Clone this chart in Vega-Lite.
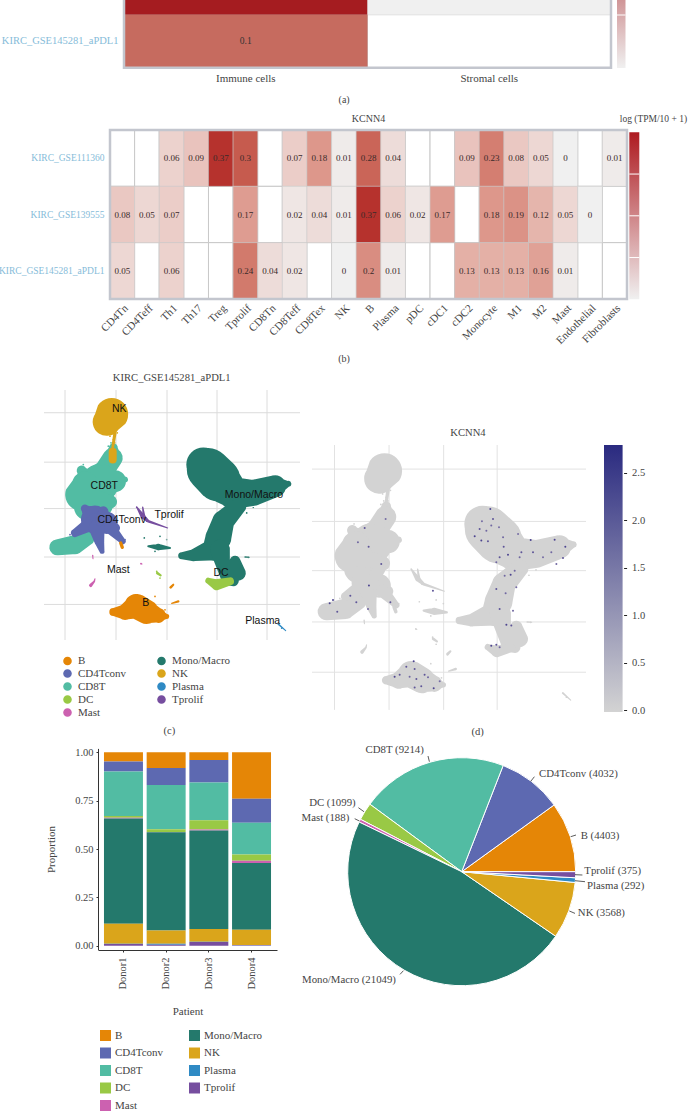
{
  "$schema": "https://vega.github.io/schema/vega-lite/v6.json",
  "width": 688,
  "height": 1111,
  "autosize": {"type": "none"},
  "padding": 0,
  "background": "white",
  "view": {"stroke": null},
  "config": {
    "font": "Liberation Serif",
    "axis": {"labelFont": "Liberation Serif", "titleFont": "Liberation Serif", "titleFontWeight": "normal", "labelColor": "#444444", "titleColor": "#444444"},
    "legend": {"labelFont": "Liberation Serif", "labelColor": "#444444"},
    "text": {"font": "Liberation Serif", "color": "#444444"}
  },
  "datasets": {
    "heatA": [
      {"set": "KIRC_GSE139555", "cell": "Immune cells", "v": 0.15},
      {"set": "KIRC_GSE139555", "cell": "Stromal cells", "v": 0},
      {"set": "KIRC_GSE145281_aPDL1", "cell": "Immune cells", "v": 0.1},
      {"set": "KIRC_GSE145281_aPDL1", "cell": "Stromal cells", "v": null}
    ],
    "heatB": [
      {"set": "KIRC_GSE111360", "cell": "CD4Tn", "v": null},
      {"set": "KIRC_GSE111360", "cell": "CD4Teff", "v": null},
      {"set": "KIRC_GSE111360", "cell": "Th1", "v": 0.06},
      {"set": "KIRC_GSE111360", "cell": "Th17", "v": 0.09},
      {"set": "KIRC_GSE111360", "cell": "Treg", "v": 0.37},
      {"set": "KIRC_GSE111360", "cell": "Tprolif", "v": 0.3},
      {"set": "KIRC_GSE111360", "cell": "CD8Tn", "v": null},
      {"set": "KIRC_GSE111360", "cell": "CD8Teff", "v": 0.07},
      {"set": "KIRC_GSE111360", "cell": "CD8Tex", "v": 0.18},
      {"set": "KIRC_GSE111360", "cell": "NK", "v": 0.01},
      {"set": "KIRC_GSE111360", "cell": "B", "v": 0.28},
      {"set": "KIRC_GSE111360", "cell": "Plasma", "v": 0.04},
      {"set": "KIRC_GSE111360", "cell": "pDC", "v": null},
      {"set": "KIRC_GSE111360", "cell": "cDC1", "v": null},
      {"set": "KIRC_GSE111360", "cell": "cDC2", "v": 0.09},
      {"set": "KIRC_GSE111360", "cell": "Monocyte", "v": 0.23},
      {"set": "KIRC_GSE111360", "cell": "M1", "v": 0.08},
      {"set": "KIRC_GSE111360", "cell": "M2", "v": 0.05},
      {"set": "KIRC_GSE111360", "cell": "Mast", "v": 0},
      {"set": "KIRC_GSE111360", "cell": "Endothelial", "v": null},
      {"set": "KIRC_GSE111360", "cell": "Fibroblasts", "v": 0.01},
      {"set": "KIRC_GSE139555", "cell": "CD4Tn", "v": 0.08},
      {"set": "KIRC_GSE139555", "cell": "CD4Teff", "v": 0.05},
      {"set": "KIRC_GSE139555", "cell": "Th1", "v": 0.07},
      {"set": "KIRC_GSE139555", "cell": "Th17", "v": null},
      {"set": "KIRC_GSE139555", "cell": "Treg", "v": null},
      {"set": "KIRC_GSE139555", "cell": "Tprolif", "v": 0.17},
      {"set": "KIRC_GSE139555", "cell": "CD8Tn", "v": null},
      {"set": "KIRC_GSE139555", "cell": "CD8Teff", "v": 0.02},
      {"set": "KIRC_GSE139555", "cell": "CD8Tex", "v": 0.04},
      {"set": "KIRC_GSE139555", "cell": "NK", "v": 0.01},
      {"set": "KIRC_GSE139555", "cell": "B", "v": 0.37},
      {"set": "KIRC_GSE139555", "cell": "Plasma", "v": 0.06},
      {"set": "KIRC_GSE139555", "cell": "pDC", "v": 0.02},
      {"set": "KIRC_GSE139555", "cell": "cDC1", "v": 0.17},
      {"set": "KIRC_GSE139555", "cell": "cDC2", "v": null},
      {"set": "KIRC_GSE139555", "cell": "Monocyte", "v": 0.18},
      {"set": "KIRC_GSE139555", "cell": "M1", "v": 0.19},
      {"set": "KIRC_GSE139555", "cell": "M2", "v": 0.12},
      {"set": "KIRC_GSE139555", "cell": "Mast", "v": 0.05},
      {"set": "KIRC_GSE139555", "cell": "Endothelial", "v": 0},
      {"set": "KIRC_GSE139555", "cell": "Fibroblasts", "v": null},
      {"set": "KIRC_GSE145281_aPDL1", "cell": "CD4Tn", "v": 0.05},
      {"set": "KIRC_GSE145281_aPDL1", "cell": "CD4Teff", "v": null},
      {"set": "KIRC_GSE145281_aPDL1", "cell": "Th1", "v": 0.06},
      {"set": "KIRC_GSE145281_aPDL1", "cell": "Th17", "v": null},
      {"set": "KIRC_GSE145281_aPDL1", "cell": "Treg", "v": null},
      {"set": "KIRC_GSE145281_aPDL1", "cell": "Tprolif", "v": 0.24},
      {"set": "KIRC_GSE145281_aPDL1", "cell": "CD8Tn", "v": 0.04},
      {"set": "KIRC_GSE145281_aPDL1", "cell": "CD8Teff", "v": 0.02},
      {"set": "KIRC_GSE145281_aPDL1", "cell": "CD8Tex", "v": null},
      {"set": "KIRC_GSE145281_aPDL1", "cell": "NK", "v": 0},
      {"set": "KIRC_GSE145281_aPDL1", "cell": "B", "v": 0.2},
      {"set": "KIRC_GSE145281_aPDL1", "cell": "Plasma", "v": 0.01},
      {"set": "KIRC_GSE145281_aPDL1", "cell": "pDC", "v": null},
      {"set": "KIRC_GSE145281_aPDL1", "cell": "cDC1", "v": null},
      {"set": "KIRC_GSE145281_aPDL1", "cell": "cDC2", "v": 0.13},
      {"set": "KIRC_GSE145281_aPDL1", "cell": "Monocyte", "v": 0.13},
      {"set": "KIRC_GSE145281_aPDL1", "cell": "M1", "v": 0.13},
      {"set": "KIRC_GSE145281_aPDL1", "cell": "M2", "v": 0.16},
      {"set": "KIRC_GSE145281_aPDL1", "cell": "Mast", "v": 0.01},
      {"set": "KIRC_GSE145281_aPDL1", "cell": "Endothelial", "v": null},
      {"set": "KIRC_GSE145281_aPDL1", "cell": "Fibroblasts", "v": null}
    ],
    "umap": [
      {"cell": "CD8T", "limb": "cd8s", "x": -5.37, "y": 6.15, "w": 0.9},
      {"cell": "CD8T", "limb": "cd8s", "x": -5.43, "y": 5.14, "w": 2},
      {"cell": "CD8T", "limb": "cd8s", "x": -6.2, "y": 3.95, "w": 2},
      {"cell": "CD8T", "limb": "cd8s", "x": -7.2, "y": 2.94, "w": 2.4},
      {"cell": "CD8T", "limb": "cd8a", "x": -8.53, "y": 3.85, "w": 1},
      {"cell": "CD8T", "limb": "cd8a", "x": -7.97, "y": 2.94, "w": 2.17},
      {"cell": "CD8T", "limb": "cd8a", "x": -6.7, "y": 2.6, "w": 3.8},
      {"cell": "CD8T", "limb": "cd8a", "x": -5.2, "y": 2.77, "w": 2.2},
      {"cell": "CD8T", "limb": "cd8a", "x": -4.2, "y": 2.94, "w": 0.6},
      {"cell": "CD8T", "limb": "cd8b", "x": -8.2, "y": 2.43, "w": 2.6},
      {"cell": "CD8T", "limb": "cd8b", "x": -8.53, "y": 1.42, "w": 3.3},
      {"cell": "CD8T", "limb": "cd8b", "x": -7.87, "y": 0.24, "w": 2.9},
      {"cell": "CD8T", "limb": "cd8b", "x": -6.7, "y": 0.41, "w": 2.6},
      {"cell": "CD8T", "limb": "cd8b", "x": -5.7, "y": 0.68, "w": 1.4},
      {"cell": "CD8T", "limb": "cd8c", "x": -10.97, "y": -3.92, "w": 1.6},
      {"cell": "CD8T", "limb": "cd8c", "x": -9.2, "y": -3.65, "w": 1.9},
      {"cell": "CD8T", "limb": "cd8c", "x": -7.97, "y": -2.97, "w": 1.5},
      {"cell": "CD8T", "limb": "cd8c", "x": -7.2, "y": -2.13, "w": 1},
      {"cell": "CD4Tconv", "limb": "cd4a", "x": -8.2, "y": 0, "w": 0.83},
      {"cell": "CD4Tconv", "limb": "cd4a", "x": -7.2, "y": -1.11, "w": 2.8},
      {"cell": "CD4Tconv", "limb": "cd4a", "x": -6.03, "y": -1.45, "w": 2.2},
      {"cell": "CD4Tconv", "limb": "cd4a", "x": -5.2, "y": -1.96, "w": 1},
      {"cell": "CD4Tconv", "limb": "cd4b", "x": -7.2, "y": -1.28, "w": 1.6},
      {"cell": "CD4Tconv", "limb": "cd4b", "x": -9.2, "y": -2.47, "w": 0.8},
      {"cell": "CD4Tconv", "limb": "cd4c", "x": -7.03, "y": -1.96, "w": 1.6},
      {"cell": "CD4Tconv", "limb": "cd4c", "x": -6.77, "y": -3.31, "w": 1},
      {"cell": "CD4Tconv", "limb": "cd4c", "x": -6.5, "y": -4.32, "w": 0.5},
      {"cell": "CD4Tconv", "limb": "cd4d", "x": -5.7, "y": -1.96, "w": 1.2},
      {"cell": "CD4Tconv", "limb": "cd4d", "x": -4.43, "y": -3.31, "w": 0.6},
      {"cell": "CD4Tconv", "limb": "cd4e", "x": -6.37, "y": -0.27, "w": 1},
      {"cell": "CD4Tconv", "limb": "cd4e", "x": -6.7, "y": -1.28, "w": 1},
      {"cell": "B", "limb": "b3", "x": -4.63, "y": -3.48, "w": 0.33},
      {"cell": "B", "limb": "b3", "x": -4.47, "y": -3.92, "w": 0.33},
      {"cell": "Mono/Macro", "limb": "mm1", "x": 3.63, "y": 4.46, "w": 3.4},
      {"cell": "Mono/Macro", "limb": "mm1", "x": 4.13, "y": 3.95, "w": 4.3},
      {"cell": "Mono/Macro", "limb": "mm1", "x": 5.13, "y": 2.94, "w": 4.4},
      {"cell": "Mono/Macro", "limb": "mm1", "x": 6.63, "y": 1.59, "w": 3.2},
      {"cell": "Mono/Macro", "limb": "mm1", "x": 8.63, "y": 1.59, "w": 2.6},
      {"cell": "Mono/Macro", "limb": "mm1", "x": 10.8, "y": 2.26, "w": 2.2},
      {"cell": "Mono/Macro", "limb": "mm1", "x": 12.13, "y": 2.5, "w": 0.6},
      {"cell": "Mono/Macro", "limb": "mm2", "x": 7.13, "y": 0.24, "w": 1.6},
      {"cell": "Mono/Macro", "limb": "mm2", "x": 5.63, "y": -1.28, "w": 2.2},
      {"cell": "Mono/Macro", "limb": "mm2", "x": 5.13, "y": -2.97, "w": 2.6},
      {"cell": "Mono/Macro", "limb": "mm2", "x": 4.63, "y": -4.16, "w": 2.2},
      {"cell": "Mono/Macro", "limb": "mm2", "x": 2.63, "y": -4.73, "w": 1.2},
      {"cell": "Mono/Macro", "limb": "mm2", "x": 1.47, "y": -4.76, "w": 0.7},
      {"cell": "Mono/Macro", "limb": "mm3", "x": 5.3, "y": -4.16, "w": 2},
      {"cell": "Mono/Macro", "limb": "mm3", "x": 6.8, "y": -5.34, "w": 1.1},
      {"cell": "Mono/Macro", "limb": "mm3", "x": 7.13, "y": -6.52, "w": 1.5},
      {"cell": "Mono/Macro", "limb": "mm3", "x": 6.63, "y": -7.3, "w": 1.1},
      {"cell": "Mono/Macro", "limb": "mm3", "x": 5.9, "y": -7.36, "w": 0.8},
      {"cell": "Mono/Macro", "limb": "mm4", "x": -1.87, "y": -3.82, "w": 0.2},
      {"cell": "Mono/Macro", "limb": "mm4", "x": -0.87, "y": -3.89, "w": 0.67},
      {"cell": "Mono/Macro", "limb": "mm4", "x": 0.3, "y": -3.99, "w": 0.2},
      {"cell": "Mono/Macro", "limb": "mm5", "x": 7.8, "y": -4.9, "w": 0.13},
      {"cell": "Mono/Macro", "limb": "mm5", "x": 8.23, "y": -4.93, "w": 0.1},
      {"cell": "DC", "limb": "dc1", "x": 4.13, "y": -7.3, "w": 0.6},
      {"cell": "DC", "limb": "dc1", "x": 4.97, "y": -7.7, "w": 1.1},
      {"cell": "DC", "limb": "dc1", "x": 6.3, "y": -7.36, "w": 0.8},
      {"cell": "DC", "limb": "dc2", "x": -0.97, "y": -6.52, "w": 0.27},
      {"cell": "DC", "limb": "dc2", "x": -0.63, "y": -6.76, "w": 0.2},
      {"cell": "Tprolif", "limb": "tp1", "x": -2.97, "y": 0.07, "w": 0.17},
      {"cell": "Tprolif", "limb": "tp1", "x": -2.43, "y": -0.78, "w": 0.47},
      {"cell": "Tprolif", "limb": "tp1", "x": -1.87, "y": -1.28, "w": 0.27},
      {"cell": "Tprolif", "limb": "tp1", "x": 0.07, "y": -1.96, "w": 0.1},
      {"cell": "Tprolif", "limb": "tp2", "x": -2.43, "y": 0.14, "w": 0.13},
      {"cell": "Tprolif", "limb": "tp2", "x": -2.3, "y": -0.78, "w": 0.27},
      {"cell": "Mast", "limb": "ma1", "x": -7.63, "y": -7.77, "w": 0.33},
      {"cell": "Mast", "limb": "ma1", "x": -7.27, "y": -7.36, "w": 0.17},
      {"cell": "Mast", "limb": "ma1", "x": -7.2, "y": -7.09, "w": 0.1},
      {"cell": "Mast", "limb": "ma2", "x": -7.43, "y": -4.73, "w": 0.13},
      {"cell": "Mast", "limb": "ma2", "x": -7.4, "y": -5.07, "w": 0.1},
      {"cell": "Mast", "limb": "ma3", "x": -2.6, "y": -5.57, "w": 0.1},
      {"cell": "Mast", "limb": "ma3", "x": -2.5, "y": -5.61, "w": 0.1},
      {"cell": "B", "limb": "b1", "x": -5.37, "y": -10.47, "w": 0.8},
      {"cell": "B", "limb": "b1", "x": -4.2, "y": -10.47, "w": 1.6},
      {"cell": "B", "limb": "b1", "x": -3.03, "y": -9.9, "w": 2.5},
      {"cell": "B", "limb": "b1", "x": -2.03, "y": -10.47, "w": 2.4},
      {"cell": "B", "limb": "b1", "x": -0.87, "y": -10.81, "w": 1.5},
      {"cell": "B", "limb": "b1", "x": -0.03, "y": -10.91, "w": 0.5},
      {"cell": "B", "limb": "b2", "x": 0.37, "y": -7.97, "w": 0.27},
      {"cell": "B", "limb": "b2", "x": 0.63, "y": -7.7, "w": 0.2},
      {"cell": "B", "limb": "b4", "x": 0.47, "y": -9.59, "w": 0.13},
      {"cell": "B", "limb": "b4", "x": 1.13, "y": -9.39, "w": 0.23},
      {"cell": "Plasma", "limb": "pl1", "x": 11.13, "y": -11.69, "w": 0.17},
      {"cell": "Plasma", "limb": "pl1", "x": 11.87, "y": -12.36, "w": 0.1},
      {"cell": "NK", "limb": "nk1", "x": -5.53, "y": 9.53, "w": 3.3},
      {"cell": "NK", "limb": "nk1", "x": -6.03, "y": 8.78, "w": 2.8},
      {"cell": "NK", "limb": "nk2", "x": -5.2, "y": 7.67, "w": 0.33},
      {"cell": "NK", "limb": "nk2", "x": -5.43, "y": 6.15, "w": 0.27},
      {"cell": "NK", "limb": "nk3", "x": -5.43, "y": 5.74, "w": 0.8},
      {"cell": "NK", "limb": "nk3", "x": -5.43, "y": 4.97, "w": 0.8}
    ],
    "specks": [
      {"cell": "NK", "x": -5.37, "y": 6.99}, {"cell": "NK", "x": -5.7, "y": 7.33}, {"cell": "NK", "x": -4.97, "y": 7.67}, {"cell": "NK", "x": -5.2, "y": 6.66},
      {"cell": "CD8T", "x": -5.87, "y": 6.32}, {"cell": "CD8T", "x": -5.6, "y": 6.66}, {"cell": "CD8T", "x": -8.37, "y": 4.46}, {"cell": "CD8T", "x": -4.1, "y": 2.77}, {"cell": "CD8T", "x": -5.53, "y": 0.41},
      {"cell": "CD4Tconv", "x": -9.7, "y": -2.64}, {"cell": "CD4Tconv", "x": -4.2, "y": -3.14}, {"cell": "CD4Tconv", "x": -6.53, "y": -4.39},
      {"cell": "Mono/Macro", "x": -2.27, "y": -2.97}, {"cell": "Mono/Macro", "x": -0.7, "y": -2.8}, {"cell": "Mono/Macro", "x": -1.2, "y": -4.32}, {"cell": "Mono/Macro", "x": -0.03, "y": -3.14},
      {"cell": "Mono/Macro", "x": 6.3, "y": -2.97}, {"cell": "Mono/Macro", "x": 8.13, "y": -4.93}, {"cell": "Mono/Macro", "x": 8.63, "y": 0.07}, {"cell": "Mono/Macro", "x": 7.97, "y": -0.44}, {"cell": "Mono/Macro", "x": 7.3, "y": -0.27},
      {"cell": "DC", "x": -1.03, "y": -6.35}, {"cell": "DC", "x": -0.7, "y": -7.03},
      {"cell": "B", "x": -0.2, "y": -10.24}, {"cell": "B", "x": -0.2, "y": -10.68}, {"cell": "B", "x": -1.2, "y": -8.89},
      {"cell": "Mast", "x": -2.6, "y": -5.57},
      {"cell": "Tprolif", "x": -3.03, "y": 0.14}, {"cell": "Tprolif", "x": -2.03, "y": -1.28},
      {"cell": "Plasma", "x": 11.47, "y": -12.09}
    ],
    "umapLabels": [
      {"t": "NK", "x": -4.77, "y": 10.03},
      {"t": "CD8T", "x": -6.27, "y": 2.26},
      {"t": "CD4Tconv", "x": -4.53, "y": -1.11},
      {"t": "Tprolif", "x": 0.2, "y": -0.68},
      {"t": "Mono/Macro", "x": 8.7, "y": 1.35},
      {"t": "DC", "x": 5.4, "y": -6.52},
      {"t": "Mast", "x": -4.87, "y": -6.25},
      {"t": "B", "x": -2.13, "y": -9.56},
      {"t": "Plasma", "x": 9.57, "y": -11.35}
    ],
    "kcnn4": [
      {"x": 4.36, "y": 5.89, "v": 2.3}, {"x": 4.61, "y": 4.94, "v": 2}, {"x": 3.58, "y": 4.71, "v": 1.6}, {"x": 3.36, "y": 3.98, "v": 2},
      {"x": 4.45, "y": 4.3, "v": 1.7}, {"x": 5.17, "y": 4.14, "v": 1.6}, {"x": 2.9, "y": 3.28, "v": 2.3}, {"x": 4.14, "y": 2.8, "v": 2},
      {"x": 5.55, "y": 3.18, "v": 1.7}, {"x": 5.61, "y": 2.29, "v": 2}, {"x": 6.95, "y": 3.5, "v": 1.6}, {"x": 8.13, "y": 2.93, "v": 2.3},
      {"x": 10.37, "y": 2.96, "v": 2.3}, {"x": 11.37, "y": 2.29, "v": 2.3}, {"x": 10.06, "y": 1.75, "v": 1.7}, {"x": 11.15, "y": 1.21, "v": 2},
      {"x": 10.53, "y": 0.64, "v": 1.7}, {"x": 6.01, "y": 1.53, "v": 2.3}, {"x": 4.92, "y": 0.8, "v": 1.7}, {"x": 7.1, "y": 1.27, "v": 1.7},
      {"x": 8.35, "y": 1.75, "v": 2}, {"x": 9.28, "y": 1.27, "v": 1.6}, {"x": 6.26, "y": -0.38, "v": 2.3}, {"x": 5.7, "y": -0.48, "v": 1.7},
      {"x": 4.92, "y": -1.75, "v": 2}, {"x": 5.79, "y": -2.17, "v": 1.7}, {"x": 5.23, "y": -3.66, "v": 2}, {"x": 6.48, "y": -3.82, "v": 1.7},
      {"x": 5.86, "y": -5.16, "v": 2.3}, {"x": 6.32, "y": -5.25, "v": 2}, {"x": 4.92, "y": -7.07, "v": 2}, {"x": 4.45, "y": -7.17, "v": 2.3},
      {"x": 5.23, "y": -7.32, "v": 1.7}, {"x": 6.79, "y": -1.59, "v": 1.6}, {"x": 7.26, "y": 1.75, "v": 2}, {"x": 3.52, "y": 2.87, "v": 2.3},
      {"x": 3.99, "y": 3.82, "v": 1.7}, {"x": 5.23, "y": 1.27, "v": 2}, {"x": 6.64, "y": 0, "v": 1.7},
      {"x": -3.49, "y": -9.17, "v": 2}, {"x": -2.8, "y": -8.66, "v": 2.3}, {"x": -2.71, "y": -9.39, "v": 2}, {"x": -4.58, "y": -10.13, "v": 2.3},
      {"x": -4.11, "y": -9.94, "v": 2}, {"x": -3.18, "y": -10.13, "v": 1.7}, {"x": -2.55, "y": -10.35, "v": 2}, {"x": -1.78, "y": -9.94, "v": 2},
      {"x": -1.46, "y": -10.19, "v": 1.7}, {"x": -2.09, "y": -11.05, "v": 2}, {"x": -0.93, "y": -11.24, "v": 2.3}, {"x": -2.71, "y": -11.15, "v": 2},
      {"x": -0.37, "y": -10.57, "v": 1.6},
      {"x": -10.65, "y": -3.12, "v": 2.3}, {"x": -10.34, "y": -2.8, "v": 2.3}, {"x": -9.94, "y": -3.92, "v": 2}, {"x": -8.72, "y": -2.39, "v": 2},
      {"x": -7.01, "y": 2.29, "v": 2}, {"x": -8.01, "y": 2.71, "v": 1.7}, {"x": -7.38, "y": 4.08, "v": 2}, {"x": -5.83, "y": 0.64, "v": 2},
      {"x": -6.98, "y": -1.43, "v": 2.3}, {"x": -8.16, "y": -3.03, "v": 2}, {"x": -7.07, "y": -3.66, "v": 1.7}, {"x": -4.98, "y": -3.03, "v": 2},
      {"x": -1, "y": -1.91, "v": 2}, {"x": -5.42, "y": 4.94, "v": 1.6}
    ],
    "gridX": [{"x": -10.2}, {"x": -5.1}, {"x": 0}, {"x": 5}, {"x": 10}],
    "gridY": [{"y": 9.7}, {"y": 4.7}, {"y": 0}, {"y": -4.9}, {"y": -9.7}],
    "stack": [
      {"patient": "Donor1", "cell": "B", "p": 0.048}, {"patient": "Donor1", "cell": "CD4Tconv", "p": 0.052}, {"patient": "Donor1", "cell": "CD8T", "p": 0.229},
      {"patient": "Donor1", "cell": "DC", "p": 0.01}, {"patient": "Donor1", "cell": "Mast", "p": 0.003}, {"patient": "Donor1", "cell": "Mono/Macro", "p": 0.545},
      {"patient": "Donor1", "cell": "NK", "p": 0.103}, {"patient": "Donor1", "cell": "Plasma", "p": 0.001}, {"patient": "Donor1", "cell": "Tprolif", "p": 0.009},
      {"patient": "Donor2", "cell": "B", "p": 0.081}, {"patient": "Donor2", "cell": "CD4Tconv", "p": 0.088}, {"patient": "Donor2", "cell": "CD8T", "p": 0.229},
      {"patient": "Donor2", "cell": "DC", "p": 0.014}, {"patient": "Donor2", "cell": "Mast", "p": 0.002}, {"patient": "Donor2", "cell": "Mono/Macro", "p": 0.507},
      {"patient": "Donor2", "cell": "NK", "p": 0.069}, {"patient": "Donor2", "cell": "Plasma", "p": 0.005}, {"patient": "Donor2", "cell": "Tprolif", "p": 0.005},
      {"patient": "Donor3", "cell": "B", "p": 0.04}, {"patient": "Donor3", "cell": "CD4Tconv", "p": 0.116}, {"patient": "Donor3", "cell": "CD8T", "p": 0.195},
      {"patient": "Donor3", "cell": "DC", "p": 0.048}, {"patient": "Donor3", "cell": "Mast", "p": 0.006}, {"patient": "Donor3", "cell": "Mono/Macro", "p": 0.509},
      {"patient": "Donor3", "cell": "NK", "p": 0.066}, {"patient": "Donor3", "cell": "Plasma", "p": 0.001}, {"patient": "Donor3", "cell": "Tprolif", "p": 0.019},
      {"patient": "Donor4", "cell": "B", "p": 0.24}, {"patient": "Donor4", "cell": "CD4Tconv", "p": 0.124}, {"patient": "Donor4", "cell": "CD8T", "p": 0.164},
      {"patient": "Donor4", "cell": "DC", "p": 0.033}, {"patient": "Donor4", "cell": "Mast", "p": 0.012}, {"patient": "Donor4", "cell": "Mono/Macro", "p": 0.345},
      {"patient": "Donor4", "cell": "NK", "p": 0.078}, {"patient": "Donor4", "cell": "Plasma", "p": 0.001}, {"patient": "Donor4", "cell": "Tprolif", "p": 0.003}
    ],
    "pie": [
      {"cell": "B", "n": 4403, "t": "B (4403)", "lx": 138.3, "ly": 36, "ax": 114.3, "ay": 36.7, "bx": 109, "by": 35},
      {"cell": "CD4Tconv", "n": 4032, "t": "CD4Tconv (4032)", "lx": 116.7, "ly": 97.3, "ax": 72.7, "ay": 95, "bx": 69, "by": 90.3},
      {"cell": "CD8T", "n": 9214, "t": "CD8T (9214)", "lx": -67, "ly": 121.7, "ax": -33.7, "ay": 115.7, "bx": -32.3, "by": 110},
      {"cell": "DC", "n": 1099, "t": "DC (1099)", "lx": -129.3, "ly": 68.7, "ax": -103.3, "ay": 64, "bx": -97.7, "by": 60},
      {"cell": "Mast", "n": 188, "t": "Mast (188)", "lx": -136.3, "ly": 54, "ax": -107, "ay": 53, "bx": -102.3, "by": 50.7},
      {"cell": "Mono/Macro", "n": 21049, "t": "Mono/Macro (21049)", "lx": -112.7, "ly": -108.7, "ax": -61.7, "ay": -102.7, "bx": -58.3, "by": -99},
      {"cell": "NK", "n": 3568, "t": "NK (3568)", "lx": 139.7, "ly": -41.3, "ax": 113.3, "ay": -41.7, "bx": 107.7, "by": -39.3},
      {"cell": "Plasma", "n": 292, "t": "Plasma (292)", "lx": 154, "ly": -14, "ax": 123.3, "ay": -10, "bx": 113.3, "by": -9},
      {"cell": "Tprolif", "n": 375, "t": "Tprolif (375)", "lx": 151, "ly": 0.7, "ax": 120.7, "ay": -3.3, "bx": 113.3, "by": -3}
    ]
  },
  "resolve": {
    "scale": {"x": "independent", "y": "independent", "color": "independent", "size": "independent", "theta": "independent"},
    "axis": {"x": "independent", "y": "independent"},
    "legend": {"color": "independent", "size": "independent"}
  },
  "layer": [
    {
      "data": {"name": "heatA"},
      "encoding": {
        "x": {"field": "cell", "type": "nominal", "title": null, "sort": null,
          "scale": {"domain": ["Immune cells", "Stromal cells"], "range": [124, 611], "paddingInner": 0, "paddingOuter": 0},
          "axis": {"orient": "bottom", "offset": -1043.3, "labelAngle": 0, "labelFontSize": 11, "domain": false, "ticks": false, "labelPadding": 5}},
        "y": {"field": "set", "type": "nominal", "title": null, "sort": null,
          "scale": {"domain": ["KIRC_GSE139555", "KIRC_GSE145281_aPDL1"], "range": [-38.3, 67.7], "paddingInner": 0, "paddingOuter": 0},
          "axis": {"orient": "left", "values": ["KIRC_GSE145281_aPDL1"], "offset": -124, "labelColor": "#86bcd9", "labelFontSize": 10.5, "labelLimit": 130, "domain": false, "ticks": false, "labelPadding": 6}}
      },
      "layer": [
        {"mark": {"type": "rect", "fill": "white", "stroke": "#c8c8c8", "strokeWidth": 1}},
        {
          "transform": [{"filter": "isValid(datum.v)"}],
          "mark": {"type": "rect", "stroke": null},
          "encoding": {"color": {"field": "v", "type": "quantitative", "legend": null, "scale": {"domain": [0, 0.15], "range": ["#f0f0f0", "#a51c20"]}}}
        },
        {
          "transform": [{"filter": "isValid(datum.v) && datum.set === 'KIRC_GSE145281_aPDL1'"}],
          "mark": {"type": "text", "fontSize": 9.5, "color": "#333333"},
          "encoding": {"text": {"field": "v", "type": "quantitative"}}
        }
      ]
    },
    {
      "data": {"values": [{"x0": 0, "x1": 1, "y0": 0, "y1": 1}]},
      "mark": {"type": "rect", "fillOpacity": 0, "stroke": "#c3c6ce", "strokeWidth": 2.5},
      "encoding": {
        "x": {"field": "x0", "type": "quantitative", "axis": null, "scale": {"domain": [0, 1], "range": [124, 611]}},
        "x2": {"field": "x1"},
        "y": {"field": "y0", "type": "quantitative", "axis": null, "scale": {"domain": [0, 1], "range": [67.7, -38.3]}},
        "y2": {"field": "y1"}
      }
    },
    {
      "data": {"values": [{"t": "(a)", "x": 0.452, "y": -0.305}]},
      "mark": {"type": "text", "fontSize": 10},
      "encoding": {
        "text": {"field": "t"},
        "x": {"field": "x", "type": "quantitative", "axis": null, "scale": {"domain": [0, 1], "range": [124, 611]}},
        "y": {"field": "y", "type": "quantitative", "axis": null, "scale": {"domain": [0, 1], "range": [67.7, -38.3]}}
      }
    },
    {
      "encoding": {
        "x": {"datum": 0, "type": "quantitative", "axis": null, "scale": {"domain": [0, 1], "range": [617, 625.5]}},
        "x2": {"datum": 1}
      },
      "layer": [
        {
          "data": {"values": [{"lo": 0, "hi": 0.15}]},
          "mark": {"type": "rect", "fill": {"gradient": "linear", "x1": 0, "y1": 1, "x2": 0, "y2": 0, "stops": [{"offset": 0, "color": "#f0f0f0"}, {"offset": 1, "color": "#a51c20"}]}},
          "encoding": {
            "y": {"field": "lo", "type": "quantitative", "title": null,
              "scale": {"domain": [0, 0.15], "range": [68, -91]},
              "axis": {"values": [0, 0.05], "format": ".2~f", "orient": "right", "offset": -62.5, "domain": false, "ticks": false, "labelFontSize": 10, "labelPadding": 5}},
            "y2": {"field": "hi"}
          }
        },
        {
          "data": {"values": [{"t": 0.05}]},
          "mark": {"type": "rule", "color": "white", "strokeWidth": 1},
          "encoding": {"y": {"field": "t", "type": "quantitative", "axis": null, "scale": {"domain": [0, 0.15], "range": [68, -91]}}}
        }
      ]
    },
    {
      "data": {"name": "heatB"},
      "encoding": {
        "x": {"field": "cell", "type": "nominal", "title": null, "sort": null,
          "scale": {"domain": ["CD4Tn", "CD4Teff", "Th1", "Th17", "Treg", "Tprolif", "CD8Tn", "CD8Teff", "CD8Tex", "NK", "B", "Plasma", "pDC", "cDC1", "cDC2", "Monocyte", "M1", "M2", "Mast", "Endothelial", "Fibroblasts"], "range": [110, 627], "paddingInner": 0, "paddingOuter": 0},
          "axis": {"orient": "bottom", "offset": -812, "labelAngle": -45, "labelAlign": "right", "labelBaseline": "top", "labelFontSize": 11, "labelOverlap": false, "domain": false, "ticks": false, "labelPadding": 3}},
        "y": {"field": "set", "type": "nominal", "title": null, "sort": null,
          "scale": {"domain": ["KIRC_GSE111360", "KIRC_GSE139555", "KIRC_GSE145281_aPDL1"], "range": [130, 299], "paddingInner": 0, "paddingOuter": 0},
          "axis": {"orient": "left", "offset": -110, "labelColor": "#86bcd9", "labelFontSize": 9.5, "labelLimit": 130, "domain": false, "ticks": false, "labelPadding": 6}}
      },
      "layer": [
        {"mark": {"type": "rect", "fill": "white", "stroke": "#c8c8c8", "strokeWidth": 1}},
        {
          "transform": [{"filter": "isValid(datum.v)"}],
          "mark": {"type": "rect", "stroke": "#c8c8c8", "strokeWidth": 0.5},
          "encoding": {"color": {"field": "v", "type": "quantitative", "legend": null, "scale": {"domain": [0, 0.4], "range": ["#f0f0f0", "#ae1a20"]}}}
        },
        {
          "transform": [{"filter": "isValid(datum.v)"}],
          "mark": {"type": "text", "fontSize": 9, "color": "#3a2a2a"},
          "encoding": {"text": {"field": "v", "type": "quantitative"}}
        }
      ]
    },
    {
      "data": {"values": [{"x0": 0, "x1": 1, "y0": 0, "y1": 1}]},
      "mark": {"type": "rect", "fillOpacity": 0, "stroke": "#c3c6ce", "strokeWidth": 2.5},
      "encoding": {
        "x": {"field": "x0", "type": "quantitative", "axis": null, "scale": {"domain": [0, 1], "range": [110, 627]}},
        "x2": {"field": "x1"},
        "y": {"field": "y0", "type": "quantitative", "axis": null, "scale": {"domain": [0, 1], "range": [299, 130]}},
        "y2": {"field": "y1"}
      }
    },
    {
      "data": {"values": [
        {"t": "(b)", "x": 0.4526, "y": -0.355},
        {"t": "KCNN4", "x": 0.5, "y": 1.065}
      ]},
      "mark": {"type": "text", "fontSize": 10},
      "encoding": {
        "text": {"field": "t"},
        "x": {"field": "x", "type": "quantitative", "axis": null, "scale": {"domain": [0, 1], "range": [110, 627]}},
        "y": {"field": "y", "type": "quantitative", "axis": null, "scale": {"domain": [0, 1], "range": [299, 130]}}
      }
    },
    {
      "data": {"values": [{"t": "log (TPM/10 + 1)", "x": 0.986, "y": 1.065}]},
      "mark": {"type": "text", "fontSize": 9.5, "align": "left"},
      "encoding": {
        "text": {"field": "t"},
        "x": {"field": "x", "type": "quantitative", "axis": null, "scale": {"domain": [0, 1], "range": [110, 627]}},
        "y": {"field": "y", "type": "quantitative", "axis": null, "scale": {"domain": [0, 1], "range": [299, 130]}}
      }
    },
    {
      "encoding": {
        "x": {"datum": 0, "type": "quantitative", "axis": null, "scale": {"domain": [0, 1], "range": [629.3, 639.3]}},
        "x2": {"datum": 1}
      },
      "layer": [
        {
          "data": {"values": [{"lo": 0, "hi": 0.4}]},
          "mark": {"type": "rect", "fill": {"gradient": "linear", "x1": 0, "y1": 1, "x2": 0, "y2": 0, "stops": [{"offset": 0, "color": "#f0f0f0"}, {"offset": 1, "color": "#ae1a20"}]}},
          "encoding": {
            "y": {"field": "lo", "type": "quantitative", "title": null,
              "scale": {"domain": [0, 0.4], "range": [299.3, 132.3]},
              "axis": {"values": [0, 0.1, 0.2, 0.3, 0.4], "format": ".1~f", "orient": "right", "offset": -48.7, "domain": false, "ticks": false, "labelFontSize": 10, "labelPadding": 5}},
            "y2": {"field": "hi"}
          }
        },
        {
          "data": {"values": [{"t": 0.1}, {"t": 0.2}, {"t": 0.3}]},
          "mark": {"type": "rule", "color": "white", "strokeWidth": 1},
          "encoding": {"y": {"field": "t", "type": "quantitative", "axis": null, "scale": {"domain": [0, 0.4], "range": [299.3, 132.3]}}}
        }
      ]
    },
    {
      "layer": [
        {
          "data": {"name": "specks"},
          "mark": {"type": "circle", "size": 3, "opacity": 1},
          "encoding": {
            "x": {"field": "x", "type": "quantitative", "axis": null, "scale": {"domain": [-12.3, 13.3], "range": [44, 300]}},
            "y": {"field": "y", "type": "quantitative", "axis": null, "scale": {"domain": [-13.5, 12], "range": [642, 390]}},
            "color": {"field": "cell", "type": "nominal", "scale": {"domain": ["B", "CD4Tconv", "CD8T", "DC", "Mast", "Mono/Macro", "NK", "Plasma", "Tprolif"], "range": ["#E58606", "#5D69B1", "#52BCA3", "#99C945", "#CC61B0", "#24796C", "#DAA51B", "#2F8AC4", "#764E9F"]},
              "legend": {"title": null, "orient": "none", "legendX": 62, "legendY": 655, "columns": 2, "symbolType": "circle", "symbolSize": 50, "labelFontSize": 11, "rowPadding": -3, "columnPadding": 27, "labelOffset": 5}}
          }
        },
        {
          "data": {"name": "gridX"},
          "mark": {"type": "rule", "color": "#dcdcdc", "strokeWidth": 1},
          "encoding": {
            "x": {"field": "x", "type": "quantitative", "axis": null, "scale": {"domain": [-12.3, 13.3], "range": [44, 300]}},
            "y": {"datum": -13.3, "type": "quantitative", "axis": null, "scale": {"domain": [-13.5, 12], "range": [642, 390]}},
            "y2": {"datum": 12}
          }
        },
        {
          "data": {"name": "gridY"},
          "mark": {"type": "rule", "color": "#dcdcdc", "strokeWidth": 1},
          "encoding": {
            "y": {"field": "y", "type": "quantitative", "axis": null, "scale": {"domain": [-13.5, 12], "range": [642, 390]}},
            "x": {"datum": -12.3, "type": "quantitative", "axis": null, "scale": {"domain": [-12.3, 13.3], "range": [44, 300]}},
            "x2": {"datum": 13.3}
          }
        },
        {
          "data": {"name": "umap"},
          "mark": {"type": "trail"},
          "encoding": {
            "x": {"field": "x", "type": "quantitative", "axis": null, "scale": {"domain": [-12.3, 13.3], "range": [44, 300]}},
            "y": {"field": "y", "type": "quantitative", "axis": null, "scale": {"domain": [-13.5, 12], "range": [642, 390]}},
            "size": {"field": "w", "type": "quantitative", "legend": null, "scale": {"domain": [0, 10], "range": [0, 100]}},
            "detail": {"field": "limb"},
            "order": null,
            "color": {"field": "cell", "type": "nominal", "legend": null}
          }
        },
        {
          "data": {"name": "umapLabels"},
          "mark": {"type": "text", "font": "Liberation Sans", "fontSize": 10.5, "color": "#111111"},
          "encoding": {
            "x": {"field": "x", "type": "quantitative", "axis": null, "scale": {"domain": [-12.3, 13.3], "range": [44, 300]}},
            "y": {"field": "y", "type": "quantitative", "axis": null, "scale": {"domain": [-13.5, 12], "range": [642, 390]}},
            "text": {"field": "t"}
          }
        },
        {
          "data": {"values": [{"t": "KIRC_GSE145281_aPDL1", "x": 0.47, "y": 13.24}, {"t": "(c)", "x": 0.23, "y": -22.47}]},
          "mark": {"type": "text", "fontSize": 10.6},
          "encoding": {
            "x": {"field": "x", "type": "quantitative", "axis": null, "scale": {"domain": [-12.3, 13.3], "range": [44, 300]}},
            "y": {"field": "y", "type": "quantitative", "axis": null, "scale": {"domain": [-13.5, 12], "range": [642, 390]}},
            "text": {"field": "t"}
          }
        }
      ]
    },
    {
      "layer": [
        {
          "data": {"name": "gridX"},
          "transform": [{"filter": "datum.x < 10"}],
          "mark": {"type": "rule", "color": "#e2e2e2", "strokeWidth": 1},
          "encoding": {
            "x": {"field": "x", "type": "quantitative", "axis": null, "scale": {"domain": [-12.3, 13.3], "range": [312, 586]}},
            "y": {"datum": -13.3, "type": "quantitative", "axis": null, "scale": {"domain": [-13.5, 12], "range": [712, 445]}},
            "y2": {"datum": 12}
          }
        },
        {
          "data": {"name": "gridY"},
          "mark": {"type": "rule", "color": "#e2e2e2", "strokeWidth": 1},
          "encoding": {
            "y": {"field": "y", "type": "quantitative", "axis": null, "scale": {"domain": [-13.5, 12], "range": [712, 445]}},
            "x": {"datum": -12.3, "type": "quantitative", "axis": null, "scale": {"domain": [-12.3, 13.3], "range": [312, 586]}},
            "x2": {"datum": 13.3}
          }
        },
        {
          "data": {"name": "umap"},
          "mark": {"type": "trail", "color": "#d3d3d3"},
          "encoding": {
            "x": {"field": "x", "type": "quantitative", "axis": null, "scale": {"domain": [-12.3, 13.3], "range": [312, 586]}},
            "y": {"field": "y", "type": "quantitative", "axis": null, "scale": {"domain": [-13.5, 12], "range": [712, 445]}},
            "size": {"field": "w", "type": "quantitative", "legend": null, "scale": {"domain": [0, 10], "range": [0, 107]}},
            "detail": {"field": "limb"},
            "order": null
          }
        },
        {
          "data": {"name": "specks"},
          "mark": {"type": "circle", "size": 3, "opacity": 1, "color": "#d3d3d3"},
          "encoding": {
            "x": {"field": "x", "type": "quantitative", "axis": null, "scale": {"domain": [-12.3, 13.3], "range": [312, 586]}},
            "y": {"field": "y", "type": "quantitative", "axis": null, "scale": {"domain": [-13.5, 12], "range": [712, 445]}}
          }
        },
        {
          "data": {"name": "kcnn4"},
          "mark": {"type": "circle", "size": 4, "opacity": 1},
          "encoding": {
            "x": {"field": "x", "type": "quantitative", "axis": null, "scale": {"domain": [-12.3, 13.3], "range": [312, 586]}},
            "y": {"field": "y", "type": "quantitative", "axis": null, "scale": {"domain": [-13.5, 12], "range": [712, 445]}},
            "color": {"field": "v", "type": "quantitative", "legend": null, "scale": {"domain": [0, 2.78], "range": ["#d3d3d3", "#2a2a80"]}}
          }
        },
        {
          "data": {"values": [{"t": "KCNN4", "x": 2.27, "y": 13.15}, {"t": "(d)", "x": 3.18, "y": -15.4}]},
          "mark": {"type": "text", "fontSize": 10.6},
          "encoding": {
            "x": {"field": "x", "type": "quantitative", "axis": null, "scale": {"domain": [-12.3, 13.3], "range": [312, 586]}},
            "y": {"field": "y", "type": "quantitative", "axis": null, "scale": {"domain": [-13.5, 12], "range": [712, 445]}},
            "text": {"field": "t"}
          }
        }
      ]
    },
    {
      "data": {"values": [{"lo": -0.02, "hi": 2.79}]},
      "mark": {"type": "rect", "fill": {"gradient": "linear", "x1": 0, "y1": 1, "x2": 0, "y2": 0, "stops": [{"offset": 0, "color": "#d3d3d3"}, {"offset": 1, "color": "#2a2a80"}]}},
      "encoding": {
        "x": {"datum": 0, "type": "quantitative", "axis": null, "scale": {"domain": [0, 1], "range": [604, 622.6]}},
        "x2": {"datum": 1},
        "y": {"field": "lo", "type": "quantitative", "title": null,
          "scale": {"domain": [-0.02, 2.79], "range": [712, 445]},
          "axis": {"values": [0, 0.5, 1, 1.5, 2, 2.5], "format": ".1f", "orient": "right", "offset": -64.4, "domain": false, "tickSize": 3, "tickColor": "#222222", "labelFontSize": 10.5, "labelPadding": 5}},
        "y2": {"field": "hi"}
      }
    },
    {
      "data": {"name": "stack"},
      "mark": {"type": "bar"},
      "encoding": {
        "x": {"field": "patient", "type": "nominal", "title": "Patient", "sort": null,
          "scale": {"domain": ["Donor1", "Donor2", "Donor3", "Donor4"], "range": [98, 277], "paddingInner": 0.087, "paddingOuter": 0.14},
          "axis": {"orient": "bottom", "offset": -161, "labelAngle": -90, "labelAlign": "right", "labelBaseline": "middle", "labelFontSize": 10.5, "titleFontSize": 11, "domainColor": "#333333", "tickColor": "#333333", "tickSize": 2, "titlePadding": 16, "labelPadding": 5}},
        "y": {"field": "p", "type": "quantitative", "title": "Proportion", "stack": true,
          "scale": {"domain": [-0.02, 1.02], "range": [949.6, 748.4], "nice": false, "zero": false},
          "axis": {"orient": "left", "values": [0, 0.25, 0.5, 0.75, 1], "format": ".2f", "offset": -98, "grid": false, "labelFontSize": 10.5, "titleFontSize": 11, "domainColor": "#333333", "tickColor": "#333333", "tickSize": 2, "titlePadding": 18, "labelPadding": 3}},
        "color": {"field": "cell", "type": "nominal", "scale": {"domain": ["B", "CD4Tconv", "CD8T", "DC", "Mast", "Mono/Macro", "NK", "Plasma", "Tprolif"], "range": ["#E58606", "#5D69B1", "#52BCA3", "#99C945", "#CC61B0", "#24796C", "#DAA51B", "#2F8AC4", "#764E9F"]},
          "legend": {"title": null, "orient": "none", "legendX": 99, "legendY": 1029, "columns": 2, "symbolType": "square", "symbolSize": 121, "labelFontSize": 11, "rowPadding": 5.5, "columnPadding": 24, "labelOffset": 3}}
      }
    },
    {
      "data": {"name": "pie"},
      "layer": [
        {
          "mark": {"type": "arc", "radius": 114, "stroke": "white", "strokeWidth": 1},
          "encoding": {
            "x": {"datum": 0, "type": "quantitative", "axis": null, "scale": {"domain": [-114, 114], "range": [347.7, 575.7]}},
            "y": {"datum": 0, "type": "quantitative", "axis": null, "scale": {"domain": [-114, 114], "range": [985.7, 757.7]}},
            "theta": {"field": "n", "type": "quantitative", "stack": true, "scale": {"range": [1.5708, -4.7124]}},
            "color": {"field": "cell", "type": "nominal", "legend": null, "scale": {"domain": ["B", "CD4Tconv", "CD8T", "DC", "Mast", "Mono/Macro", "NK", "Plasma", "Tprolif"], "range": ["#E58606", "#5D69B1", "#52BCA3", "#99C945", "#CC61B0", "#24796C", "#DAA51B", "#2F8AC4", "#764E9F"]}}
          }
        },
        {
          "mark": {"type": "rule", "color": "#333333", "strokeWidth": 0.8},
          "encoding": {
            "x": {"field": "ax", "type": "quantitative", "axis": null, "scale": {"domain": [-114, 114], "range": [347.7, 575.7]}},
            "y": {"field": "ay", "type": "quantitative", "axis": null, "scale": {"domain": [-114, 114], "range": [985.7, 757.7]}},
            "x2": {"field": "bx"},
            "y2": {"field": "by"}
          }
        },
        {
          "mark": {"type": "text", "fontSize": 10.8},
          "encoding": {
            "x": {"field": "lx", "type": "quantitative", "axis": null, "scale": {"domain": [-114, 114], "range": [347.7, 575.7]}},
            "y": {"field": "ly", "type": "quantitative", "axis": null, "scale": {"domain": [-114, 114], "range": [985.7, 757.7]}},
            "text": {"field": "t"}
          }
        }
      ]
    }
  ]
}
